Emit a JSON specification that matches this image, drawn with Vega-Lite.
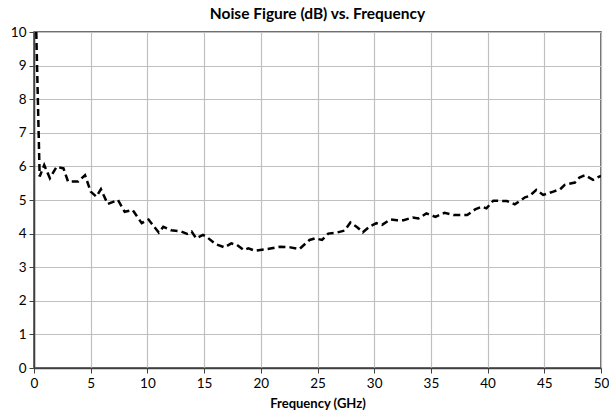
{
  "$schema": "https://vega.github.io/schema/vega-lite/v6.json",
  "width": 567,
  "height": 336,
  "autosize": "none",
  "padding": {"left": 34, "top": 32, "right": 8, "bottom": 47},
  "background": "white",
  "title": {"text": "Noise Figure (dB) vs. Frequency", "font": "Lato", "fontSize": 15.5, "fontWeight": "bold", "color": "#000000", "offset": 3, "anchor": "middle"},
  "config": {
    "view": {"stroke": "#404040", "strokeWidth": 1.5},
    "axis": {"labelFont": "Lato", "titleFont": "Lato", "labelColor": "#000000", "titleColor": "#000000", "labelFontSize": 13.5, "titleFontSize": 13, "gridColor": "#c0c0c0", "gridWidth": 1.2, "domainColor": "#404040", "domainWidth": 1.5, "tickColor": "#404040", "tickSize": 5}
  },
  "data": {"values": [
    {"f": 0.2, "nf": 10.0}, {"f": 0.5, "nf": 5.7}, {"f": 0.9, "nf": 6.04}, {"f": 1.4, "nf": 5.65},
    {"f": 2.0, "nf": 5.99}, {"f": 2.6, "nf": 5.94}, {"f": 3.0, "nf": 5.55}, {"f": 3.9, "nf": 5.55},
    {"f": 4.5, "nf": 5.74}, {"f": 5.0, "nf": 5.25}, {"f": 5.5, "nf": 5.1}, {"f": 5.9, "nf": 5.32},
    {"f": 6.5, "nf": 4.88}, {"f": 7.4, "nf": 5.0}, {"f": 8.0, "nf": 4.65}, {"f": 8.7, "nf": 4.7},
    {"f": 9.5, "nf": 4.31}, {"f": 10.1, "nf": 4.42}, {"f": 11.0, "nf": 4.03}, {"f": 11.4, "nf": 4.2},
    {"f": 12.1, "nf": 4.1}, {"f": 13.0, "nf": 4.06}, {"f": 13.5, "nf": 3.99}, {"f": 13.9, "nf": 4.06},
    {"f": 14.3, "nf": 3.86}, {"f": 14.9, "nf": 3.96}, {"f": 15.2, "nf": 3.91}, {"f": 16.0, "nf": 3.69},
    {"f": 16.8, "nf": 3.59}, {"f": 17.4, "nf": 3.71}, {"f": 17.9, "nf": 3.66}, {"f": 18.5, "nf": 3.51},
    {"f": 18.9, "nf": 3.56}, {"f": 19.5, "nf": 3.49}, {"f": 20.6, "nf": 3.54}, {"f": 21.7, "nf": 3.61},
    {"f": 22.6, "nf": 3.59}, {"f": 23.4, "nf": 3.54}, {"f": 24.3, "nf": 3.81}, {"f": 24.8, "nf": 3.86},
    {"f": 25.4, "nf": 3.81}, {"f": 25.95, "nf": 4.0}, {"f": 26.7, "nf": 4.03}, {"f": 27.4, "nf": 4.09},
    {"f": 27.9, "nf": 4.33}, {"f": 28.5, "nf": 4.19}, {"f": 29.0, "nf": 4.04}, {"f": 29.6, "nf": 4.21},
    {"f": 30.2, "nf": 4.31}, {"f": 30.7, "nf": 4.26}, {"f": 31.4, "nf": 4.42}, {"f": 32.0, "nf": 4.4},
    {"f": 32.6, "nf": 4.4}, {"f": 33.4, "nf": 4.48}, {"f": 33.9, "nf": 4.45}, {"f": 34.6, "nf": 4.6},
    {"f": 35.4, "nf": 4.5}, {"f": 36.2, "nf": 4.62}, {"f": 37.0, "nf": 4.55}, {"f": 38.2, "nf": 4.55},
    {"f": 38.9, "nf": 4.72}, {"f": 39.5, "nf": 4.8}, {"f": 39.9, "nf": 4.75}, {"f": 40.5, "nf": 4.98},
    {"f": 41.7, "nf": 4.97}, {"f": 42.4, "nf": 4.87}, {"f": 43.3, "nf": 5.08}, {"f": 43.7, "nf": 5.12},
    {"f": 44.3, "nf": 5.3}, {"f": 44.9, "nf": 5.15}, {"f": 45.8, "nf": 5.25}, {"f": 46.4, "nf": 5.32},
    {"f": 46.8, "nf": 5.45}, {"f": 47.7, "nf": 5.52}, {"f": 48.1, "nf": 5.67}, {"f": 48.6, "nf": 5.74},
    {"f": 49.3, "nf": 5.6}, {"f": 49.8, "nf": 5.69}, {"f": 50.0, "nf": 5.72}
  ]},
  "mark": {"type": "line", "color": "#000000", "strokeWidth": 2.5, "strokeDash": [7, 4], "clip": true},
  "encoding": {
    "x": {"field": "f", "type": "quantitative", "title": "Frequency (GHz)", "scale": {"domain": [0, 50], "nice": false},
          "axis": {"values": [0, 5, 10, 15, 20, 25, 30, 35, 40, 45, 50], "titleFontWeight": "bold", "labelPadding": 3, "titlePadding": 8, "labelFlush": false}},
    "y": {"field": "nf", "type": "quantitative", "title": null, "scale": {"domain": [0, 10], "nice": false},
          "axis": {"values": [0, 1, 2, 3, 4, 5, 6, 7, 8, 9, 10], "labelPadding": 3, "labelFlush": false}}
  }
}
